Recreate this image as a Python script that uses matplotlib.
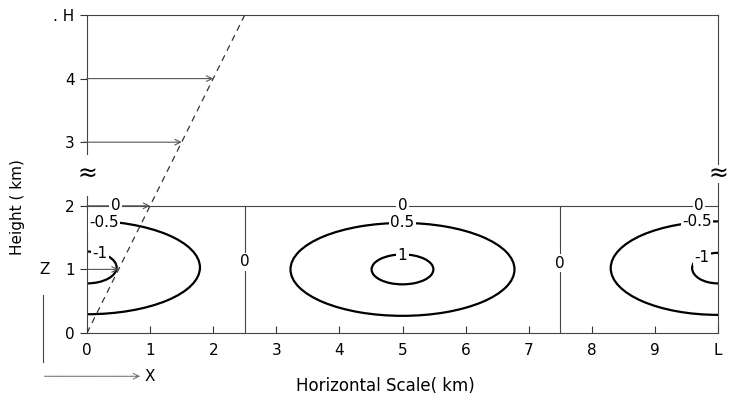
import matplotlib

matplotlib.use("Agg")

import matplotlib.pyplot as plt
from matplotlib.patches import Arc

# axis values
x_ticks = [0, 1, 2, 3, 4, 5, 6, 7, 8, 9, 10]
x_tick_labels = ["0", "1", "2", "3", "4", "5", "6", "7", "8", "9", "L"]
z_ticks = [0, 1, 2, 3, 4, 5]
z_tick_labels = ["0", "1", "2", "3", "4", ". H"]

# circulation cells (centre x, centre z, full width, full height, arc span)
cell_x = [0, 5, 10]
cell_z = [1.03, 1.0, 1.02]
outer_width = [3.58, 3.55, 3.4]
outer_height = [1.47, 1.46, 1.47]
inner_width = [0.94, 0.98, 0.82]
inner_height = [0.5, 0.47, 0.48]
arc_span = [(-90, 90), (0, 360), (90, 270)]

# contour labels
label_text = ["0", "0", "0", "-0.5", "0.5", "-0.5", "-1", "1", "-1", "0", "0"]
label_x = [0.45, 5.0, 9.7, 0.27, 5.0, 9.67, 0.2, 5.0, 9.75, 2.5, 7.5]
label_z = [2.0, 2.0, 2.0, 1.74, 1.74, 1.76, 1.25, 1.22, 1.19, 1.12, 1.1]

# zero stream lines and tilted dashed line
zero_x = [2.5, 7.5]
dash_x = [0, 2.5]
dash_z = [0, 5]

# horizontal wind arrows (start x, end x, height)
arrow_start = [0.0, 0.0, -0.05, 0.0]
arrow_end = [0.5, 1.0, 1.5, 2.0]
arrow_z = [1, 2, 3, 4]

thin = dict(color="#444444", lw=0.8, clip_on=False)

fig = plt.figure(figsize=(7.29, 3.99), dpi=100)
ax = fig.add_axes([87 / 729, 66 / 399, 631 / 729, 318 / 399])
ax.set_xlim(0, 10)
ax.set_ylim(0, 5)
for s in ax.spines.values():
    s.set_visible(False)

# frame with breaks
ax.plot([0, 10], [0, 0], **thin)
ax.plot([0, 10], [5, 5], **thin)
ax.plot([0, 10], [2, 2], **thin)
ax.plot([0, 0], [0, 2.16], **thin)
ax.plot([0, 0], [2.82, 5], **thin)
ax.plot([10, 10], [0, 2.36], **thin)
ax.plot([10, 10], [2.66, 5], **thin)
ax.text(0, 2.5, "≈", ha="center", va="center", fontsize=17, clip_on=False)
ax.text(10, 2.5, "≈", ha="center", va="center", fontsize=17, clip_on=False)

for xv in zero_x:
    ax.plot([xv, xv], [0, 2], **thin)

for i in range(len(cell_x)):
    t1, t2 = arc_span[i]
    ax.add_patch(Arc((cell_x[i], cell_z[i]), outer_width[i], outer_height[i],
                     theta1=t1, theta2=t2, color="black", lw=1.6))
    ax.add_patch(Arc((cell_x[i], cell_z[i]), inner_width[i], inner_height[i],
                     theta1=t1, theta2=t2, color="black", lw=1.6))

for t, xv, zv in zip(label_text, label_x, label_z):
    ax.text(xv, zv, t, ha="center", va="center", fontsize=11, zorder=5,
            bbox=dict(facecolor="white", edgecolor="none", pad=1.0))

ax.plot(dash_x, dash_z, color="#333333", lw=0.9, dashes=(5, 4), zorder=4)

for xs, xe, zv in zip(arrow_start, arrow_end, arrow_z):
    ax.annotate("", xy=(xe, zv), xytext=(xs, zv),
                arrowprops=dict(arrowstyle="->", color="#555555", lw=0.8,
                                shrinkA=0, shrinkB=0), annotation_clip=False)

ax.set_xticks(x_ticks)
ax.set_xticklabels(x_tick_labels)
ax.set_yticks(z_ticks)
ax.set_yticklabels(z_tick_labels)
ax.tick_params(axis="x", direction="in", length=5, width=0.8, pad=7,
               labelsize=11, colors="#333333", labelcolor="black")
ax.tick_params(axis="y", direction="out", length=5, width=0.8, pad=4,
               labelsize=11, colors="#333333", labelcolor="black")

# coordinate indicators
ax.text(-0.67, 1.0, "Z", ha="center", va="center", fontsize=11, clip_on=False)
ax.plot([-0.70, -0.70], [0.6, -0.46], **thin)
ax.annotate("", xy=(0.84, -0.68), xytext=(-0.67, -0.68),
            arrowprops=dict(arrowstyle="->", color="#555555", lw=0.7,
                            linestyle=(0, (2, 1)), shrinkA=0, shrinkB=0),
            annotation_clip=False)
ax.text(1.0, -0.68, "X", ha="center", va="center", fontsize=11, clip_on=False)

fig.text(0.024, 0.48, "Height ( km)", rotation=90, ha="center", va="center",
         fontsize=11)
fig.text(0.528, 0.032, "Horizontal Scale( km)", ha="center", va="center",
         fontsize=12)

fig.savefig("out.png", dpi=100)
